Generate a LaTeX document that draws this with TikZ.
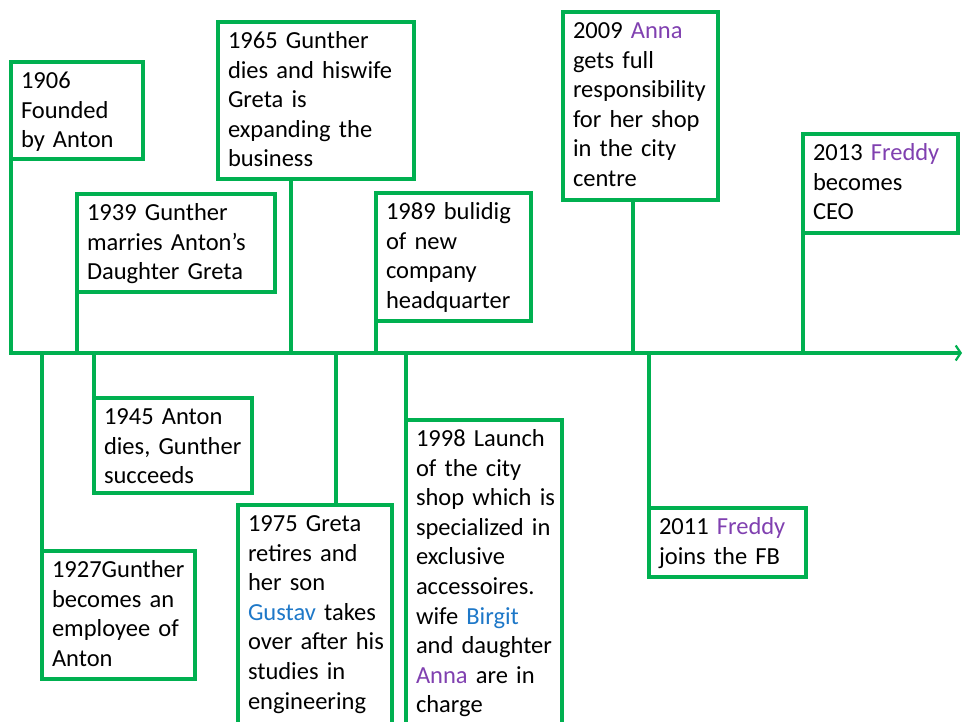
\documentclass[tikz,border=0pt]{standalone}
\usepackage{fontspec}
\usetikzlibrary{arrows.meta}
\newfontfamily\evfont{Carlito}
\definecolor{tlgreen}{RGB}{0,176,80}
\definecolor{namepurple}{RGB}{128,64,176}
\definecolor{nameblue}{RGB}{30,120,200}
\newcommand{\pname}[1]{{\color{namepurple}#1}}
\newcommand{\bname}[1]{{\color{nameblue}#1}}
\begin{document}
\begin{tikzpicture}[x=1pt, y=-1pt,
  ev/.style={draw=tlgreen, line width=3.6pt, outer sep=0pt, inner xsep=8pt,
    inner ysep=0pt, anchor=north west, align=left, text height=26.5pt,
    font=\evfont\fontsize{24.5pt}{29.6pt}\selectfont,
    execute at begin node={\leftskip=2pt}},
  link/.style={draw=tlgreen, line width=3.6pt, line cap=rect},
  axis/.style={draw=tlgreen, line width=3.6pt,
    -{Straight Barb[length=5pt, width=15pt, line width=2.2pt]}}]
\useasboundingbox (0,0) rectangle (964,722);

% time axis
\coordinate (tstart) at (11,353);
\coordinate (tend) at (962,353);

% events above the axis
\node[ev, text width=116pt, text depth=70.5pt] (e1906) at (11,62)
  {1906\\Founded\\by~Anton};
\node[ev, text width=182pt, text depth=71.5pt] (e1939) at (77,194)
  {1939 Gunther\\marries~Anton’s\\Daughter~Greta};
\node[ev, text width=180pt, text depth=130.5pt] (e1965) at (218,22)
  {1965 Gunther\\dies~and~hiswife\\Greta is\\expanding~the\\business};
\node[ev, text width=139pt, text depth=101.5pt] (e1989) at (376,193)
  {1989~bulidig\\of new\\company\\headquarter};
\node[ev, text width=139pt, text depth=161.5pt] (e2009) at (563,12)
  {2009 \pname{Anna}\\gets full\\responsibility\\for~her~shop\\in~the~city\\centre};
\node[ev, text width=139pt, text depth=72.5pt] (e2013) at (803,134)
  {2013~\pname{Freddy}\\becomes\\CEO};

% events below the axis
\node[ev, text width=137pt, text depth=101.5pt] (e1927) at (42,551)
  {1927Gunther\\becomes~an\\employee~of\\Anton};
\node[ev, text width=142pt, text depth=68.5pt] (e1945) at (94,398)
  {1945 Anton\\dies,~Gunther\\succeeds};
\node[ev, text width=138pt, text depth=208.5pt] (e1975) at (238,505)
  {1975 Greta\\retires~and\\her son\\\bname{Gustav}~takes\\over~after~his\\studies~in\\engineering};
\node[ev, text width=140pt, text depth=293.5pt] (e1998) at (406,420)
  {1998~Launch\\of~the~city\\shop~which~is\\specialized~in\\exclusive\\accessoires.\\wife~\bname{Birgit}\\and~daughter\\\pname{Anna}~are~in\\charge};
\node[ev, text width=141pt, text depth=42.5pt] (e2011) at (649,508)
  {2011~\pname{Freddy}\\joins~the~FB};

% connectors from the events to the axis
\draw[link] (e1906.south west) -- (e1906.south west |- tstart);
\draw[link] (e1939.south west) -- (e1939.south west |- tstart);
\draw[link] ([xshift=73pt]e1965.south west) -- ([xshift=73pt]e1965.south west |- tstart);
\draw[link] (e1989.south west) -- (e1989.south west |- tstart);
\draw[link] ([xshift=70pt]e2009.south west) -- ([xshift=70pt]e2009.south west |- tstart);
\draw[link] (e2013.south west) -- (e2013.south west |- tstart);
\draw[link] (e1927.north west) -- (e1927.north west |- tstart);
\draw[link] (e1945.north west) -- (e1945.north west |- tstart);
\draw[link] ([xshift=98pt]e1975.north west) -- ([xshift=98pt]e1975.north west |- tstart);
\draw[link] (e1998.north west) -- (e1998.north west |- tstart);
\draw[link] (e2011.north west) -- (e2011.north west |- tstart);

\draw[axis] (tstart) -- (tend);
\end{tikzpicture}
\end{document}
